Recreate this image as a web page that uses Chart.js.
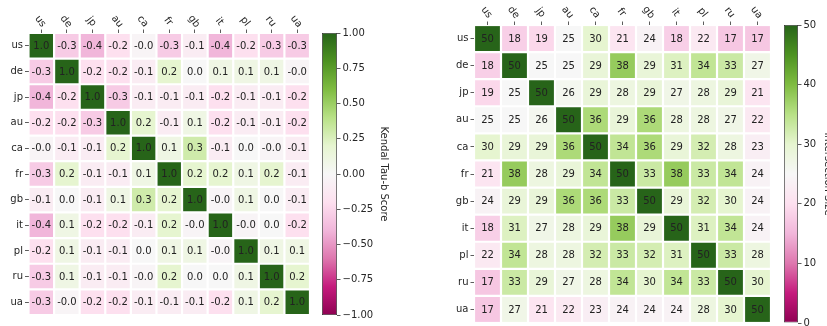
<!DOCTYPE html>
<html>
<head>
<meta charset="utf-8">
<script src="https://cdn.jsdelivr.net/npm/chart.js@4"></script>
<style>
    html, body { margin: 0; padding: 0; background: #fff; overflow: hidden; width: 827px; height: 326px; }
    canvas { position: absolute; top: 0; }
</style>
</head>
<body>
<canvas id="tauChart" width="315" height="326" style="left:0px"></canvas>
<canvas id="tauBar" width="100" height="326" style="left:312px"></canvas>
<canvas id="sizeChart" width="355" height="326" style="left:420px"></canvas>
<canvas id="sizeBar" width="100" height="326" style="left:775px"></canvas>
<script>
// ============================================================================
// Data
// ============================================================================

const COUNTRIES = ["us", "de", "jp", "au", "ca", "fr", "gb", "it", "pl", "ru", "ua"];

// Kendall tau-b scores (-0.03 stands for the "-0.0" cells)
const TAU_ROWS = [
    [1.0, -0.3, -0.4, -0.2, -0.03, -0.3, -0.1, -0.4, -0.2, -0.3, -0.3],
    [-0.3, 1.0, -0.2, -0.2, -0.1, 0.2, 0.0, 0.1, 0.1, 0.1, -0.03],
    [-0.4, -0.2, 1.0, -0.3, -0.1, -0.1, -0.1, -0.2, -0.1, -0.1, -0.2],
    [-0.2, -0.2, -0.3, 1.0, 0.2, -0.1, 0.1, -0.2, -0.1, -0.1, -0.2],
    [-0.03, -0.1, -0.1, 0.2, 1.0, 0.1, 0.3, -0.1, 0.0, -0.03, -0.1],
    [-0.3, 0.2, -0.1, -0.1, 0.1, 1.0, 0.2, 0.2, 0.1, 0.2, -0.1],
    [-0.1, 0.0, -0.1, 0.1, 0.3, 0.2, 1.0, -0.03, 0.1, 0.0, -0.1],
    [-0.4, 0.1, -0.2, -0.2, -0.1, 0.2, -0.03, 1.0, -0.03, 0.0, -0.2],
    [-0.2, 0.1, -0.1, -0.1, 0.0, 0.1, 0.1, -0.03, 1.0, 0.1, 0.1],
    [-0.3, 0.1, -0.1, -0.1, -0.03, 0.2, 0.0, 0.0, 0.1, 1.0, 0.2],
    [-0.3, -0.03, -0.2, -0.2, -0.1, -0.1, -0.1, -0.2, 0.1, 0.2, 1.0],
];

// Intersection sizes
const SIZE_ROWS = [
    [50, 18, 19, 25, 30, 21, 24, 18, 22, 17, 17],
    [18, 50, 25, 25, 29, 38, 29, 31, 34, 33, 27],
    [19, 25, 50, 26, 29, 28, 29, 27, 28, 29, 21],
    [25, 25, 26, 50, 36, 29, 36, 28, 28, 27, 22],
    [30, 29, 29, 36, 50, 34, 36, 29, 32, 28, 23],
    [21, 38, 28, 29, 34, 50, 33, 38, 33, 34, 24],
    [24, 29, 29, 36, 36, 33, 50, 29, 32, 30, 24],
    [18, 31, 27, 28, 29, 38, 29, 50, 31, 34, 24],
    [22, 34, 28, 28, 32, 33, 32, 31, 50, 33, 28],
    [17, 33, 29, 27, 28, 34, 30, 34, 33, 50, 30],
    [17, 27, 21, 22, 23, 24, 24, 24, 28, 30, 50],
];

const TAU_RANGE = [-1, 1];
const SIZE_RANGE = [0, 50];

// matplotlib PiYG control colours
const PIYG = ["#8e0152", "#c51b7d", "#de77ae", "#f1b6da", "#fde0ef", "#f7f7f7",
              "#e6f5d0", "#b8e186", "#7fbc41", "#4d9221", "#276419"];

Chart.defaults.font.family = "'DejaVu Sans', sans-serif";
Chart.defaults.font.size = 10;
Chart.defaults.color = "#262626";

// ============================================================================
// Helpers
// ============================================================================

function hexToRgb(hex) {
    return [1, 3, 5].map((i) => parseInt(hex.slice(i, i + 2), 16));
}

function piyg(t) {
    t = Math.max(0, Math.min(1, t));
    const s = t * (PIYG.length - 1);
    const i = Math.min(Math.floor(s), PIYG.length - 2);
    const f = s - i;
    const a = hexToRgb(PIYG[i]);
    const b = hexToRgb(PIYG[i + 1]);
    const c = a.map((v, k) => Math.round(v + (b[k] - v) * f));
    return `rgb(${c[0]},${c[1]},${c[2]})`;
}

// keep the axis from asking for extra room for its end labels
function fixAxisSize(prop, size) {
    return (s) => {
        s[prop] = size;
        s.paddingTop = 0;
        s.paddingBottom = 0;
        s.paddingLeft = 0;
        s.paddingRight = 0;
    };
}

function cellLabelPlugin(values, format) {
    return {
        id: "cellLabels",
        afterDatasetsDraw(chart) {
            const ctx = chart.ctx;
            ctx.save();
            ctx.font = "10px 'DejaVu Sans'";
            ctx.fillStyle = "#222";
            ctx.textAlign = "center";
            ctx.textBaseline = "middle";
            chart.data.datasets.forEach((ds, r) => {
                chart.getDatasetMeta(r).data.forEach((bar, c) => {
                    const p = bar.getCenterPoint();
                    ctx.fillText(format(values[r][c]), p.x, p.y + 0.5);
                });
            });
            ctx.restore();
        },
    };
}

// rotated column labels above the grid (clockwise, like the reference)
function topLabelPlugin(offset) {
    return {
        id: "topLabels",
        afterDraw(chart) {
            const ctx = chart.ctx;
            const xScale = chart.scales.x;
            const top = chart.chartArea.top;
            ctx.save();
            ctx.font = "10px 'DejaVu Sans'";
            ctx.fillStyle = "#262626";
            ctx.textAlign = "center";
            ctx.textBaseline = "middle";
            COUNTRIES.forEach((label, i) => {
                ctx.save();
                ctx.translate(xScale.getPixelForValue(i) - 1, top - offset);
                ctx.rotate(52 * Math.PI / 180);
                ctx.fillText(label, 0, 0);
                ctx.restore();
            });
            ctx.restore();
        },
    };
}

/**
 * Heatmap made of floating bars, one dataset per row
 */
function drawHeatmap(canvasId, rows, range, format, box) {
    const [vmin, vmax] = range;
    const datasets = rows.map((vals, r) => ({
        data: vals.map(() => [r - 0.5, r + 0.5]),
        backgroundColor: vals.map((v) => piyg((v - vmin) / (vmax - vmin))),
        borderColor: "#ffffff",
        borderWidth: 1.1,
        borderSkipped: false,
        inflateAmount: 0,
        barPercentage: 1,
        categoryPercentage: 1,
        grouped: false,
    }));

    return new Chart(document.getElementById(canvasId), {
        type: "bar",
        data: { labels: COUNTRIES, datasets },
        options: {
            responsive: false,
            animation: false,
            devicePixelRatio: 1,
            layout: { padding: { left: 0, top: 0, right: box.right, bottom: box.bottom } },
            plugins: { legend: { display: false }, tooltip: { enabled: false } },
            scales: {
                x: {
                    type: "category",
                    position: "top",
                    offset: true,
                    grid: { offset: false, drawOnChartArea: false, drawTicks: true, tickLength: 3.5, color: "#333", lineWidth: 0.8 },
                    border: { display: false },
                    ticks: { display: false },
                    afterFit: fixAxisSize("height", box.top),
                },
                y: {
                    type: "linear",
                    min: -0.5,
                    max: COUNTRIES.length - 0.5,
                    reverse: true,
                    afterBuildTicks: (s) => { s.ticks = COUNTRIES.map((_, i) => ({ value: i })); },
                    ticks: { callback: (v) => COUNTRIES[v], padding: 2, color: "#262626" },
                    grid: { drawOnChartArea: false, drawTicks: true, tickLength: 3.5, color: "#333", lineWidth: 0.8 },
                    border: { display: false },
                    afterFit: fixAxisSize("width", box.left),
                },
            },
        },
        plugins: [cellLabelPlugin(rows, format), topLabelPlugin(box.labelOffset)],
    });
}

/**
 * Colour bar: a single floating bar with a PiYG gradient and a right axis
 */
function drawColorbar(canvasId, range, step, title, format, box) {
    const [vmin, vmax] = range;
    const gradientFill = (context) => {
        const { ctx, chartArea } = context.chart;
        if (!chartArea) return PIYG[5];
        const g = ctx.createLinearGradient(0, chartArea.bottom, 0, chartArea.top);
        PIYG.forEach((c, i) => g.addColorStop(i / (PIYG.length - 1), c));
        return g;
    };

    return new Chart(document.getElementById(canvasId), {
        type: "bar",
        data: {
            labels: [""],
            datasets: [{
                data: [[vmin, vmax]],
                backgroundColor: gradientFill,
                borderColor: "#333",
                borderWidth: 0.8,
                borderSkipped: false,
                inflateAmount: 0,
                barPercentage: 1,
                categoryPercentage: 1,
            }],
        },
        options: {
            responsive: false,
            animation: false,
            devicePixelRatio: 1,
            layout: { padding: { left: box.left, top: box.top, right: box.right, bottom: box.bottom } },
            plugins: { legend: { display: false }, tooltip: { enabled: false } },
            scales: {
                x: { display: false },
                y: {
                    position: "right",
                    min: vmin,
                    max: vmax,
                    ticks: { stepSize: step, callback: format, padding: 2, color: "#262626" },
                    grid: { drawOnChartArea: false, drawTicks: true, tickLength: 3.5, color: "#333", lineWidth: 0.8 },
                    border: { display: false },
                    title: { display: true, text: title, color: "#262626", padding: { top: box.titlePad, bottom: 0 } },
                    afterFit: fixAxisSize("width", 60),
                },
            },
        },
    });
}

// ============================================================================
// Render
// ============================================================================

drawHeatmap("tauChart", TAU_ROWS, TAU_RANGE, (v) => v.toFixed(1),
    { left: 28.5, top: 33, right: 5, bottom: 11, labelOffset: 11.5 });
drawColorbar("tauBar", TAU_RANGE, 0.25, "Kendal Tau-b Score",
    (v) => v.toFixed(2).replace("-", "\u2212"), { left: 10, top: 33, right: 15, bottom: 11, titlePad: 7 });

drawHeatmap("sizeChart", SIZE_ROWS, SIZE_RANGE, (v) => String(v),
    { left: 54, top: 25, right: 4, bottom: 3, labelOffset: 12.5 });
drawColorbar("sizeBar", SIZE_RANGE, 10, "Intersection Size",
    (v) => String(v), { left: 9, top: 25, right: 17, bottom: 3, titlePad: 24 });
</script>
</body>
</html>
